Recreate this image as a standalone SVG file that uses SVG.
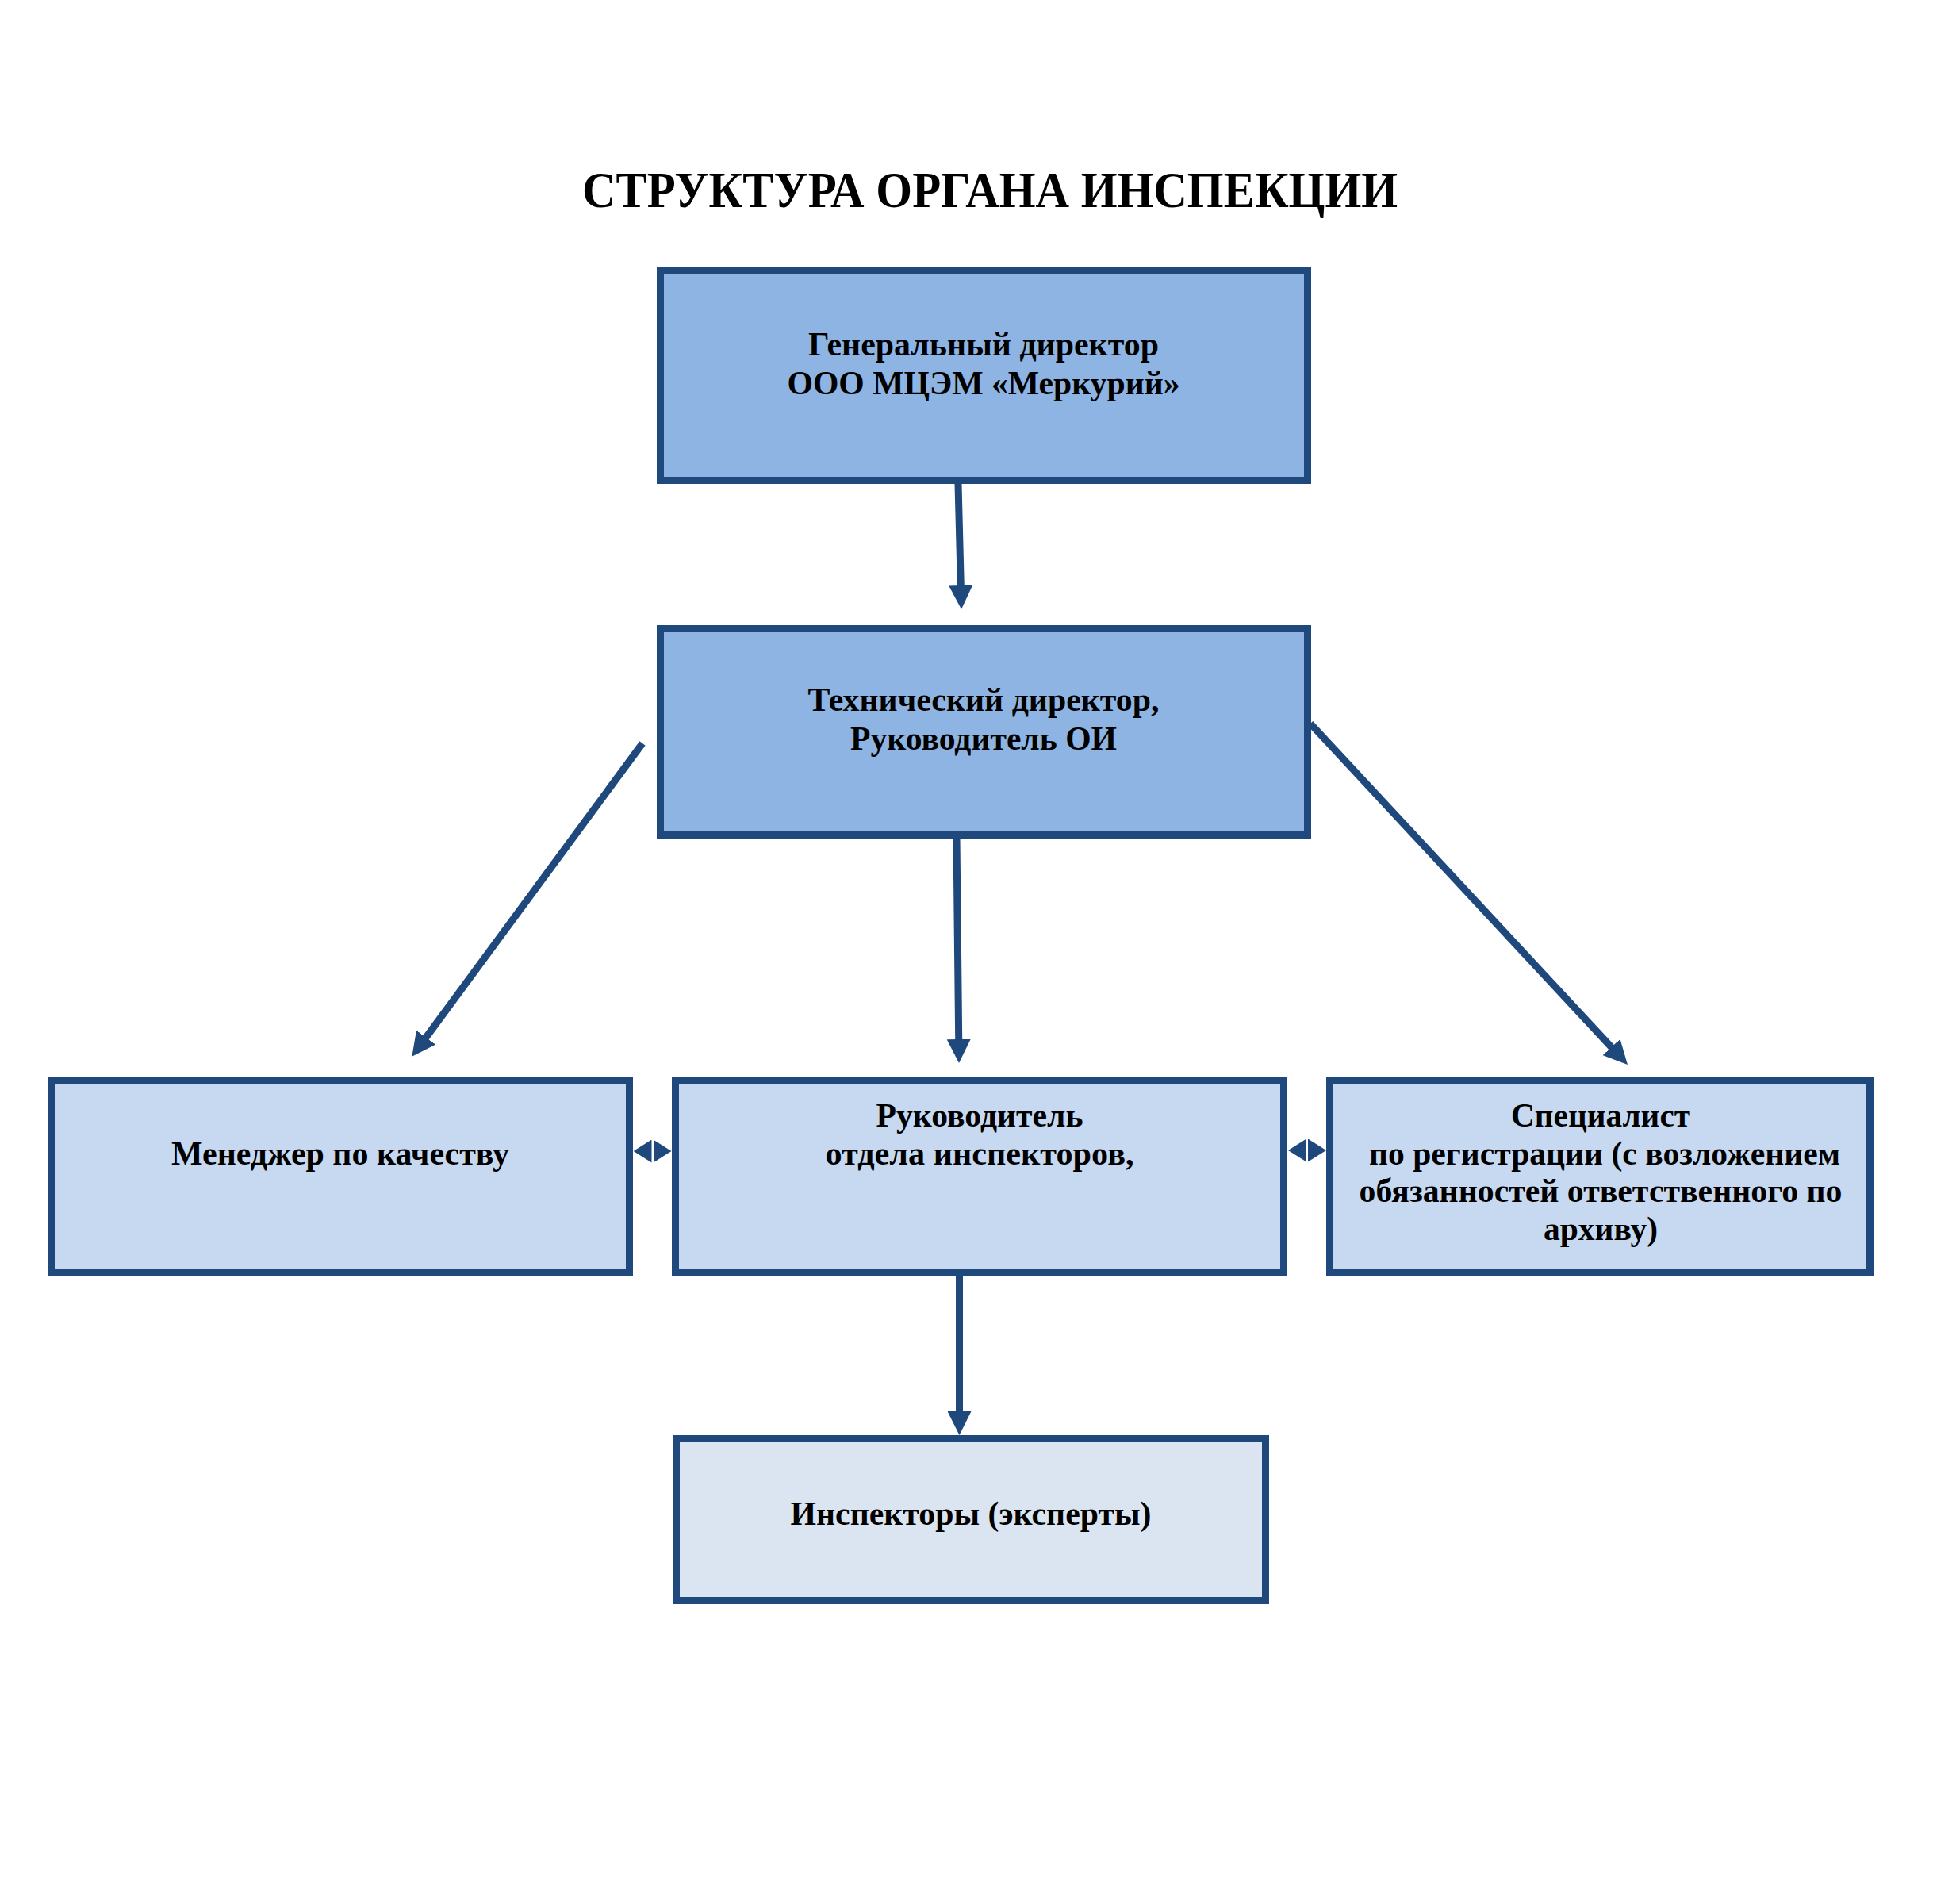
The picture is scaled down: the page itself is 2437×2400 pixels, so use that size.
<svg xmlns="http://www.w3.org/2000/svg" width="2437" height="2400" viewBox="0 0 2437 2400">
<style>
.box{stroke:#1F497D;stroke-width:9}
.l1{fill:#8EB4E3}
.l2{fill:#C6D9F1}
.l3{fill:#DBE5F1}
.t{font-family:"Liberation Serif","Times New Roman",serif;font-weight:bold;font-size:42px;fill:#000;text-anchor:middle}
.title{font-family:"Liberation Serif","Times New Roman",serif;font-weight:bold;font-size:64px;fill:#000;text-anchor:middle}
.c{stroke:#1F497D;stroke-width:9;fill:none}
.d{stroke:none;fill:none}
</style>
<defs>
<marker id="arr" markerUnits="userSpaceOnUse" markerWidth="30" markerHeight="30" viewBox="0 0 30 30" refX="1" refY="15" orient="auto"><path d="M0,0 L30,15 L0,30 z" fill="#1F497D"/></marker>
<marker id="arrs" markerUnits="userSpaceOnUse" markerWidth="23" markerHeight="29" viewBox="0 0 23 29" refX="0" refY="14.5" orient="auto-start-reverse"><path d="M0,0 L23,14.5 L0,29 z" fill="#1F497D"/></marker>
</defs>
<rect width="2437" height="2400" fill="#fff"/>
<text class="title" x="1248" y="261" textLength="1028" lengthAdjust="spacingAndGlyphs">СТРУКТУРА ОРГАНА ИНСПЕКЦИИ</text>
<g id="connectors">
<path class="c" d="M1208,610 L1211.3,739" marker-end="url(#arr)"/>
<path class="c" d="M1206,1057 L1208.7,1311" marker-end="url(#arr)"/>
<path class="c" d="M810,937 L536.5,1308.5" marker-end="url(#arr)"/>
<path class="c" d="M1652,912 L2032.2,1320.7" marker-end="url(#arr)"/>
<path class="c" d="M1209.5,1608 L1209.5,1780" marker-end="url(#arr)"/>
<path class="d" d="M821.5,1451 L823.5,1451" marker-start="url(#arrs)" marker-end="url(#arrs)"/>
<path class="d" d="M1647,1450 L1649,1450" marker-start="url(#arrs)" marker-end="url(#arrs)"/>
</g>
<g id="gendir">
<rect class="box l1" x="832.5" y="341.5" width="816" height="264"/>
<text class="t" x="1240" y="448" textLength="442" lengthAdjust="spacingAndGlyphs">Генеральный директор</text>
<text class="t" x="1240" y="497" textLength="495" lengthAdjust="spacingAndGlyphs">ООО МЦЭМ «Меркурий»</text>
</g>
<g id="techdir">
<rect class="box l1" x="832.5" y="792.5" width="816" height="260"/>
<text class="t" x="1240" y="896" textLength="443" lengthAdjust="spacingAndGlyphs">Технический директор,</text>
<text class="t" x="1240" y="945" textLength="336" lengthAdjust="spacingAndGlyphs">Руководитель ОИ</text>
</g>
<g id="quality">
<rect class="box l2" x="64.5" y="1361.5" width="729" height="242"/>
<text class="t" x="429" y="1468" textLength="426" lengthAdjust="spacingAndGlyphs">Менеджер по качеству</text>
</g>
<g id="headinsp">
<rect class="box l2" x="851.5" y="1361.5" width="767" height="242"/>
<text class="t" x="1235" y="1420" textLength="261" lengthAdjust="spacingAndGlyphs">Руководитель</text>
<text class="t" x="1235" y="1468" textLength="389" lengthAdjust="spacingAndGlyphs">отдела инспекторов,</text>
</g>
<g id="registrar">
<rect class="box l2" x="1676.5" y="1361.5" width="681" height="242"/>
<text class="t" x="2018" y="1420" textLength="226" lengthAdjust="spacingAndGlyphs">Специалист</text>
<text class="t" x="2023" y="1468" textLength="594" lengthAdjust="spacingAndGlyphs">по регистрации (с возложением</text>
<text class="t" x="2018" y="1515" textLength="609" lengthAdjust="spacingAndGlyphs">обязанностей ответственного по</text>
<text class="t" x="2018" y="1563" textLength="144" lengthAdjust="spacingAndGlyphs">архиву)</text>
</g>
<g id="inspectors">
<rect class="box l3" x="852.5" y="1813.5" width="743" height="204"/>
<text class="t" x="1224" y="1922" textLength="455" lengthAdjust="spacingAndGlyphs">Инспекторы (эксперты)</text>
</g>
</svg>
